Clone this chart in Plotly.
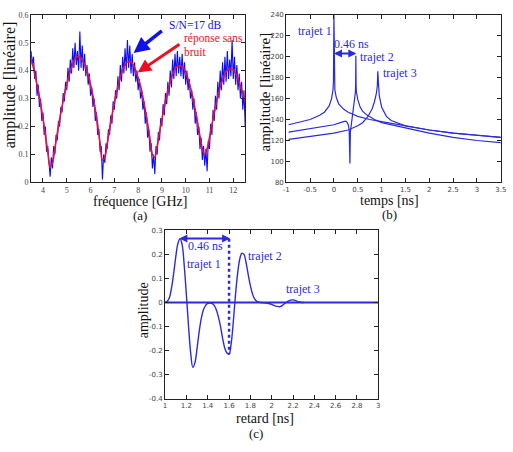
import numpy as np
import plotly.graph_objects as go

# ---------------- data: panel (a) ----------------
freq_red_start, freq_red_end = 3.5, 12.5
red_clean = [0.44, 0.41, 0.37, 0.33, 0.28, 0.23, 0.17, 0.11, 0.055, 0.07,
             0.12, 0.175, 0.225, 0.27, 0.315, 0.35, 0.385, 0.41, 0.435, 0.448,
             0.45, 0.445, 0.43, 0.41, 0.385, 0.35, 0.31, 0.26, 0.205, 0.14,
             0.08, 0.09, 0.14, 0.19, 0.24, 0.285, 0.325, 0.36, 0.39, 0.413,
             0.427, 0.432, 0.43, 0.42, 0.40, 0.375, 0.345, 0.305, 0.26, 0.21,
             0.155, 0.10, 0.09, 0.13, 0.18, 0.225, 0.27, 0.31, 0.345, 0.375,
             0.398, 0.412, 0.418, 0.417, 0.41, 0.395, 0.37, 0.34, 0.305, 0.26,
             0.215, 0.165, 0.12, 0.10, 0.12, 0.16, 0.205, 0.25, 0.29, 0.325,
             0.355, 0.38, 0.397, 0.405, 0.407, 0.403, 0.39, 0.37, 0.345, 0.32,
             0.29]
blue_noisy = [0.47, 0.42, 0.45, 0.37, 0.40, 0.31, 0.35, 0.27, 0.30, 0.22,
              0.25, 0.17, 0.20, 0.11, 0.13, 0.05, 0.02, 0.09, 0.05, 0.13,
              0.10, 0.17, 0.15, 0.22, 0.20, 0.27, 0.25, 0.32, 0.29, 0.36,
              0.33, 0.41, 0.36, 0.44, 0.39, 0.48, 0.41, 0.50, 0.42, 0.47,
              0.40, 0.54, 0.41, 0.49, 0.40, 0.46, 0.38, 0.42, 0.35, 0.39,
              0.31, 0.34, 0.27, 0.30, 0.22, 0.25, 0.17, 0.19, 0.11, 0.13,
              0.01, 0.10, 0.07, 0.14, 0.12, 0.19, 0.17, 0.24, 0.21, 0.29,
              0.26, 0.33, 0.30, 0.38, 0.33, 0.42, 0.36, 0.45, 0.39, 0.48,
              0.40, 0.51, 0.41, 0.49, 0.39, 0.46, 0.38, 0.43, 0.36, 0.40,
              0.33, 0.37, 0.30, 0.33, 0.26, 0.29, 0.21, 0.25, 0.16, 0.19,
              0.11, 0.14, 0.05, 0.10, 0.03, 0.13, 0.10, 0.18, 0.15, 0.23,
              0.20, 0.28, 0.24, 0.32, 0.28, 0.36, 0.31, 0.40, 0.34, 0.44,
              0.37, 0.46, 0.38, 0.47, 0.39, 0.45, 0.38, 0.46, 0.37, 0.43,
              0.35, 0.40, 0.33, 0.37, 0.30, 0.33, 0.26, 0.30, 0.21, 0.25,
              0.17, 0.20, 0.12, 0.16, 0.08, 0.13, 0.06, 0.12, 0.04, 0.15,
              0.12, 0.21, 0.17, 0.26, 0.22, 0.31, 0.26, 0.36, 0.30, 0.40,
              0.33, 0.43, 0.35, 0.45, 0.36, 0.47, 0.37, 0.44, 0.38, 0.51,
              0.37, 0.45, 0.35, 0.42, 0.33, 0.39, 0.30, 0.36, 0.26, 0.33,
              0.20]
freq_red = np.linspace(freq_red_start, freq_red_end, len(red_clean))
freq_blue = np.linspace(freq_red_start, freq_red_end, len(blue_noisy))
a_xticks = [4, 5, 6, 7, 8, 9, 10, 11, 12]
a_yticks = [0, 0.1, 0.2, 0.3, 0.4, 0.5, 0.6]

# ---------------- data: panel (b) ----------------
t1 = [-0.95, -0.75, -0.5, -0.3, -0.2, -0.1, -0.05, -0.02, -0.01, 0.0, 0.01, 0.02,
      0.05, 0.1, 0.2, 0.3, 0.5, 0.75, 1.0, 1.5, 2.0, 2.5, 3.0, 3.5]
v1 = [135, 137, 140, 144, 147, 153, 160, 168, 176, 240, 176, 168,
      161, 155, 150, 147, 143, 140, 138, 134, 130, 127, 125, 123]
t2 = [-0.95, -0.5, 0.0, 0.2, 0.25, 0.28, 0.3, 0.32, 0.335, 0.345, 0.37, 0.4,
      0.43, 0.45, 0.455, 0.46, 0.465, 0.47, 0.5, 0.55, 0.6, 0.7, 0.85, 1.0,
      1.5, 2.0, 2.5, 3.0, 3.5]
v2 = [128, 131, 135, 138, 138.5, 137, 135, 130, 98, 128, 137, 146,
      157, 166, 173, 201, 173, 167, 159, 152, 148, 144, 140, 137,
      132, 127, 123, 120, 118]
t3 = [-0.95, -0.5, 0.0, 0.3, 0.5, 0.6, 0.7, 0.8, 0.85, 0.89, 0.91, 0.92,
      0.93, 0.95, 1.0, 1.1, 1.2, 1.5, 2.0, 2.5, 3.0, 3.5]
v3 = [121, 124, 127, 130, 134, 137, 142, 150, 157, 165, 172, 186,
      172, 163, 152, 143, 139, 134, 130, 127, 125, 123]
b_xticks = [-1, -0.5, 0, 0.5, 1, 1.5, 2, 2.5, 3, 3.5]
b_xtext = ["-1", "-0.5", "0", "0.5", "1", "1.5", "2", "2.5", "3", "3.5"]
b_yticks = [80, 100, 120, 140, 160, 180, 200, 220, 240]

# ---------------- data: panel (c) ----------------
retard = [1.00, 1.02, 1.04, 1.06, 1.08, 1.10, 1.12, 1.14, 1.16, 1.18, 1.20,
          1.22, 1.24, 1.26, 1.28, 1.30, 1.32, 1.34, 1.36, 1.38, 1.40, 1.42,
          1.44, 1.46, 1.48, 1.50, 1.52, 1.54, 1.56, 1.58, 1.60, 1.62, 1.64,
          1.66, 1.68, 1.70, 1.72, 1.74, 1.76, 1.78, 1.80, 1.82, 1.84, 1.86,
          1.88, 1.90, 1.92, 1.94, 1.96, 1.98, 2.00, 2.02, 2.04, 2.06, 2.08,
          2.10, 2.12, 2.14, 2.16, 2.18, 2.20, 2.22, 2.24, 2.26, 2.28, 2.30]
ampl_c = [0.0, 0.005, 0.02, 0.06, 0.12, 0.19, 0.245, 0.265, 0.24, 0.15, 0.03,
          -0.10, -0.21, -0.27, -0.25, -0.19, -0.12, -0.065, -0.03, -0.012, -0.004, -0.002,
          -0.004, -0.012, -0.03, -0.06, -0.10, -0.15, -0.19, -0.21, -0.215, -0.17, -0.08,
          0.03, 0.12, 0.18, 0.205, 0.20, 0.165, 0.115, 0.07, 0.035, 0.015, 0.005,
          0.001, 0.0, -0.001, -0.002, -0.003, -0.005, -0.008, -0.012, -0.015, -0.017, -0.017,
          -0.012, -0.005, 0.002, 0.007, 0.010, 0.011, 0.009, 0.005, 0.002, 0.0, 0.0]
zero_x = [1, 3]
zero_y = [0, 0]
c_xticks = [1, 1.2, 1.4, 1.6, 1.8, 2, 2.2, 2.4, 2.6, 2.8, 3]
c_yticks = [-0.4, -0.3, -0.2, -0.1, 0, 0.1, 0.2, 0.3]
c_ytext = ["-0.4", "-0.3", "-0.2", "-0.1", "0", "0.1", "0.2", "0.3"]

# ---------------- figure ----------------
BLUE = "#0a0aff"
LBLUE = "#2b2bdc"
SERIF = "Liberation Serif"
W, H = 513, 452

fig = go.Figure()
fig.add_trace(go.Scatter(x=freq_blue, y=blue_noisy, mode="lines",
                         line=dict(color=BLUE, width=1.1), xaxis="x", yaxis="y"))
fig.add_trace(go.Scatter(x=freq_red, y=red_clean, mode="lines", line_shape="spline",
                         line=dict(color="#e8103a", width=1.6), xaxis="x", yaxis="y"))
for tt, vv in [(t1, v1), (t2, v2), (t3, v3)]:
    fig.add_trace(go.Scatter(x=tt, y=vv, mode="lines",
                             line=dict(color=LBLUE, width=1.2), xaxis="x2", yaxis="y2"))
fig.add_trace(go.Scatter(x=zero_x, y=zero_y, mode="lines",
                         line=dict(color=LBLUE, width=2), xaxis="x3", yaxis="y3"))
fig.add_trace(go.Scatter(x=retard, y=ampl_c, mode="lines", line_shape="spline",
                         line=dict(color=LBLUE, width=1.4), xaxis="x3", yaxis="y3"))
fig.add_trace(go.Scatter(x=[1.6, 1.6], y=[0.265, -0.215], mode="lines",
                         line=dict(color=LBLUE, width=2.5, dash="dot"), xaxis="x3", yaxis="y3"))


def px_dom_x(a, b):
    return [a / W, b / W]


def px_dom_y(top, bottom):
    return [1 - bottom / H, 1 - top / H]


def ax_style(dom, rng, tv, tt=None, font=None, anchor=None):
    d = dict(domain=dom, range=rng, tickvals=tv, showline=True, linecolor="#222",
             linewidth=1, mirror="ticks", ticks="inside", ticklen=4, tickcolor="#222",
             showgrid=False, zeroline=False, anchor=anchor, ticklabelstandoff=0,
             tickfont=font or dict(family="DejaVu Sans", size=7, color="#444"))
    if tt is not None:
        d["ticktext"] = tt
    return d


fa = dict(family=SERIF, size=8, color="#444")
fig.update_layout(
    width=W, height=H, margin=dict(l=0, r=0, t=0, b=0),
    paper_bgcolor="white", plot_bgcolor="white", showlegend=False,
    xaxis=ax_style(px_dom_x(28.6, 246.5), [3.5, 12.5], a_xticks, font=fa, anchor="y"),
    yaxis=ax_style(px_dom_y(11, 182), [0, 0.6], a_yticks, font=fa, anchor="x"),
    xaxis2=ax_style(px_dom_x(288.3, 506.7), [-1, 3.5], b_xticks, b_xtext, anchor="y2"),
    yaxis2=ax_style(px_dom_y(11, 182), [80, 240], b_yticks, anchor="x2"),
    xaxis3=ax_style(px_dom_x(165, 382), [1, 3], c_xticks, anchor="y3"),
    yaxis3=ax_style(px_dom_y(231, 402.7), [-0.4, 0.3], c_yticks, c_ytext, anchor="x3"),
)

ann = []


def ptext(x, y, text, size, angle=0):
    ann.append(dict(xref="paper", yref="paper", x=x / W, y=1 - y / H, text=text,
                    showarrow=False, textangle=angle, xanchor="center", yanchor="middle",
                    font=dict(family=SERIF, size=size, color="#111")))


ptext(8, 82, "amplitude [linéaire]", 16, -90)
ptext(139, 201.5, "fréquence [GHz]", 14)
ptext(139, 215.5, "(a)", 13)
ptext(267, 90, "amplitude [linéaire]", 15, -90)
ptext(393, 200.5, "temps [ns]", 14)
ptext(393, 215, "(b)", 13)
ptext(143, 312, "amplitude", 14, -90)
ptext(267, 423, "retard [ns]", 14)
ptext(258, 438, "(c)", 13)


def dtext(xr, yr, x, y, text, color, size=12, xanchor="center"):
    ann.append(dict(xref=xr, yref=yr, x=x, y=y, text=text, showarrow=False,
                    xanchor=xanchor, yanchor="middle",
                    font=dict(family=SERIF, size=size, color=color)))


def arrow(xr, yr, x0, y0, x1, y1, color, width, side="end", head=2, size=1.0):
    ann.append(dict(xref=xr, yref=yr, axref=xr, ayref=yr, x=x1, y=y1, ax=x0, ay=y0,
                    text="", showarrow=True, arrowhead=head, arrowsize=size,
                    arrowwidth=width, arrowcolor=color, arrowside=side,
                    startarrowhead=head, startarrowsize=size))


# panel (a)
arrow("x", "y", 9.06, 0.547, 7.81, 0.463, "#1010ee", 3.5, size=0.9)
arrow("x", "y", 9.80, 0.498, 7.98, 0.393, "#ee1020", 3, size=0.9)
dtext("x", "y", 10.42, 0.562, "S/N=17 dB", "#1010ee", 11.5)
dtext("x", "y", 9.84, 0.514, "réponse sans", "#ee1020", 11.5, "left")
dtext("x", "y", 9.84, 0.467, "bruit", "#ee1020", 11.5, "left")

# panel (b)
arrow("x2", "y2", -0.03, 203, 0.47, 203, LBLUE, 2, side="end+start", head=2, size=0.8)
dtext("x2", "y2", -0.39, 224.5, "trajet 1", LBLUE)
dtext("x2", "y2", 0.37, 211.7, "0.46 ns", LBLUE)
dtext("x2", "y2", 0.91, 199.8, "trajet 2", LBLUE)
dtext("x2", "y2", 1.39, 184.8, "trajet 3", LBLUE)

# panel (c)
arrow("x3", "y3", 1.12, 0.266, 1.61, 0.266, LBLUE, 2, side="end+start", head=2, size=0.8)
dtext("x3", "y3", 1.378, 0.234, "0.46 ns", LBLUE)
dtext("x3", "y3", 1.369, 0.159, "trajet 1", LBLUE)
dtext("x3", "y3", 1.937, 0.195, "trajet 2", LBLUE)
dtext("x3", "y3", 2.29, 0.055, "trajet 3", LBLUE)

fig.update_layout(annotations=ann)
fig.write_html("out.html")
